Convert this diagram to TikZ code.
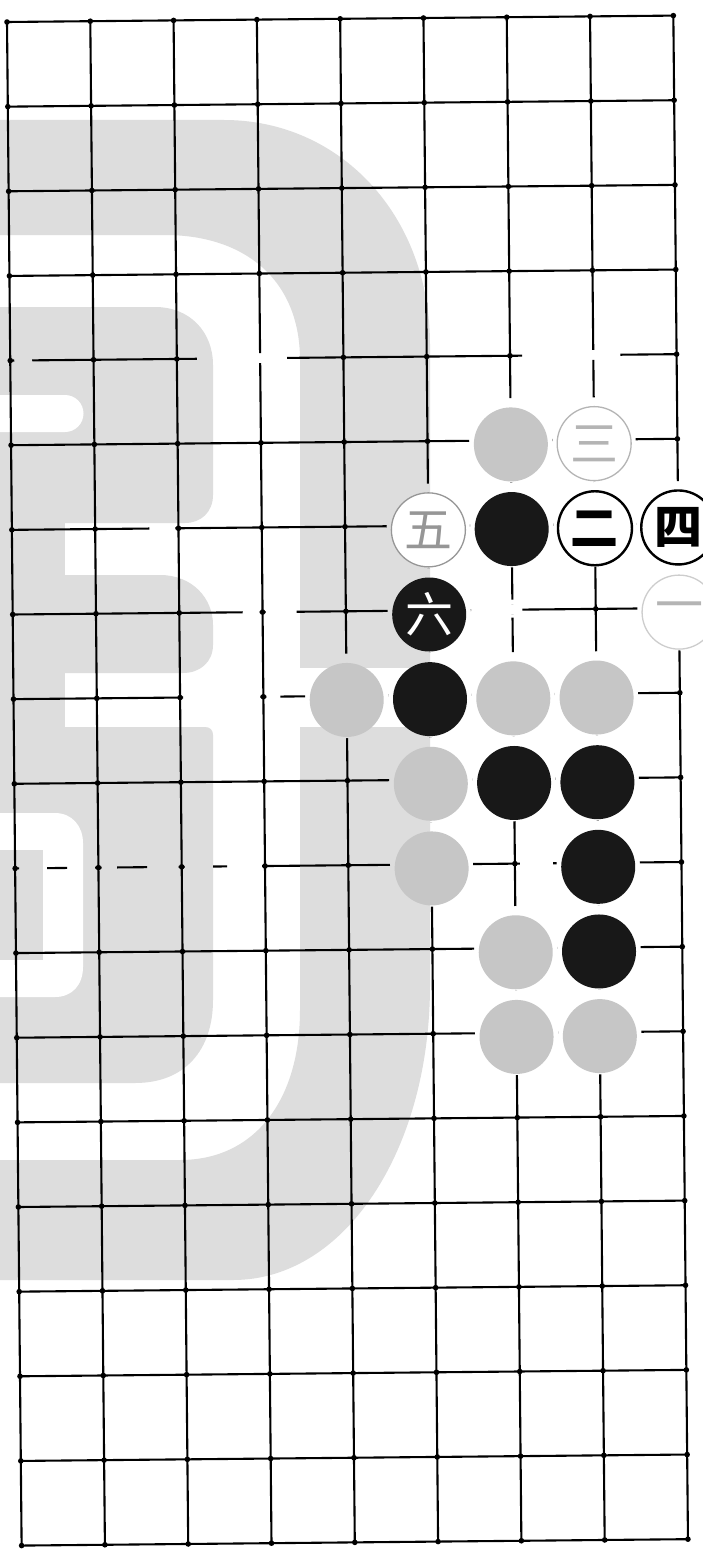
\documentclass[tikz,border=0pt]{standalone}
\usepackage{fontspec}
\newfontfamily\cjk{Noto Sans CJK SC}
\definecolor{wm}{RGB}{221,221,221}
\definecolor{wstone}{RGB}{198,198,198}
\definecolor{bstone}{RGB}{24,24,24}
\definecolor{faintA}{RGB}{180,180,180}
\definecolor{faintB}{RGB}{150,150,150}
\definecolor{faintC}{RGB}{205,205,205}
\tikzset{
  gridline/.style={line width=2.1pt, draw=black, line cap=rect},
  griddot/.style={fill=black},
  wmfill/.style={fill=wm},
  stone/.style={circle, inner sep=0pt, minimum size=74pt},
  wstn/.style={stone, fill=wstone},
  bstn/.style={stone, fill=bstone},
  numfont/.style={font=\cjk\fontsize{48}{48}\selectfont},
  boldnum/.style={font=\cjk\bfseries\fontsize{48}{48}\selectfont},
  nwhite/.style={stone, fill=white, draw=black, line width=2.4pt, boldnum, text=black},
  nfaint/.style={stone, fill=white, draw=#1, line width=1.3pt, numfont, text=#1},
  nblack/.style={bstn, numfont, text=white},
}
\def\colsp{83.3}
\def\rowsp{84.65}
\def\stoneoff{4}
\def\halo#1#2{(#1*\colsp,#2*\rowsp) ellipse [x radius=41.64, y radius=42.32]}
\begin{document}
\begin{tikzpicture}[x=1pt,y=-1pt]
\useasboundingbox (0,0) rectangle (702,1560);
\fill[white] (0,0) rectangle (702,1560);
% watermark
\fill[wmfill] (0,120) -- (224,120) .. controls (340,120) and (430,215) .. (430,345) -- (430,985) .. controls (430,1150) and (345,1280) .. (233,1280) -- (0,1280) -- (0,1160) -- (180,1160) .. controls (255,1160) and (300,1100) .. (300,1010) -- (300,360) .. controls (300,280) and (245,235) .. (165,235) -- (0,235) -- cycle;
\fill[white] (65,668) rectangle (431,727);
\fill[wmfill] (0,307) -- (155,307) .. controls (190,307) and (213,332) .. (213,365) -- (213,495) .. controls (213,512) and (201,523) .. (185,523) -- (0,523) -- cycle;
\fill[white] (0,395) -- (65,395) arc[start angle=-90, end angle=90, radius=18.5] -- (0,432) -- cycle;
\fill[wmfill] (0,520) rectangle (65,730);
\fill[wmfill] (0,575) -- (160,575) .. controls (192,575) and (213,598) .. (213,625) -- (213,645) .. controls (213,662) and (200,673) .. (183,673) -- (0,673) -- cycle;
\fill[wmfill] (0,727) -- (205,727) .. controls (210,727) and (213,730) .. (213,735) -- (213,1000) .. controls (213,1050) and (185,1083) .. (135,1083) -- (0,1083) -- cycle;
\fill[white] (0,813) -- (55,813) .. controls (72,813) and (83,826) .. (83,843) -- (83,967) .. controls (83,985) and (72,997) .. (55,997) -- (0,997) -- cycle;
\fill[wmfill] (0,850) rectangle (43,960);
% board
\begin{scope}[shift={(7,22)}, rotate=0.55]
  \begin{scope}[even odd rule]
    \clip (-60,-60) rectangle (760,1640)
      \halo{6}{5} \halo{4}{8} \halo{6}{8} \halo{7}{8} \halo{5}{9} \halo{5}{10}
      \halo{6}{11} \halo{6}{12} \halo{7}{12} \halo{6}{6} \halo{5}{8} \halo{6}{9}
      \halo{7}{9} \halo{7}{10} \halo{7}{11} \halo{5}{7} \halo{7}{5} \halo{5}{6}
      \halo{7}{6} \halo{8}{6} \halo{8}{7}
      (4,333.6) rectangle (22,343.6)
      (186.6,333.6) rectangle (276.9,343.6)
      (511.8,333.6) rectangle (610.1,343.6)
      (137.6,502.9) rectangle (163.6,512.9)
      (229.9,587.55) rectangle (246.9,597.55)
      (252.9,587.55) rectangle (283.9,597.55)
      (458.5,587.55) rectangle (509.8,597.55)
      (494.8,582.55) rectangle (504.8,587.55)
      (494.8,597.55) rectangle (504.8,600.55)
      (169.6,672.2) rectangle (246.9,682.2)
      (252.9,672.2) rectangle (266.9,682.2)
      (4,841.5) rectangle (32,851.5)
      (52,841.5) rectangle (80,851.5)
      (86.6,841.5) rectangle (102,851.5)
      (132,841.5) rectangle (163.6,851.5)
      (169.6,841.5) rectangle (198,851.5)
      (212,841.5) rectangle (247,851.5)
      (504.8,841.5) rectangle (538,851.5);
    \foreach \c in {0,...,8} \draw[gridline] (\c*\colsp,0) -- (\c*\colsp,18*\rowsp);
    \foreach \r in {0,...,18} \draw[gridline] (0,\r*\rowsp) -- (8*\colsp,\r*\rowsp);
    \foreach \c in {0,...,8} \foreach \r in {0,...,18} \fill[griddot] (\c*\colsp,\r*\rowsp) circle (2.8);
  \end{scope}
  % white stones
  \foreach \c/\r in {6/5,4/8,6/8,7/8,5/9,5/10,6/11,6/12,7/12}
    \node[wstn] (w\c\r) at (\c*\colsp,\r*\rowsp+\stoneoff) {};
  % black stones
  \foreach \c/\r in {6/6,5/8,6/9,7/9,7/10,7/11}
    \node[bstn] (b\c\r) at (\c*\colsp,\r*\rowsp+\stoneoff) {};
  % numbered stones
  \node[nfaint=faintA] (n3) at (7*\colsp,5*\rowsp+\stoneoff) {三};
  \node[nfaint=faintB] (n5) at (5*\colsp,6*\rowsp+\stoneoff) {五};
  \node[nwhite] (n2) at (7*\colsp,6*\rowsp+\stoneoff) {二};
  \node[nwhite] (n4) at (8*\colsp,6*\rowsp+\stoneoff) {四};
  \node[nfaint=faintC, text=faintA] (n1) at (8*\colsp,7*\rowsp+\stoneoff) {一};
  \node[nblack] (n6) at (5*\colsp,7*\rowsp+\stoneoff) {六};
\end{scope}
\end{tikzpicture}
\end{document}
